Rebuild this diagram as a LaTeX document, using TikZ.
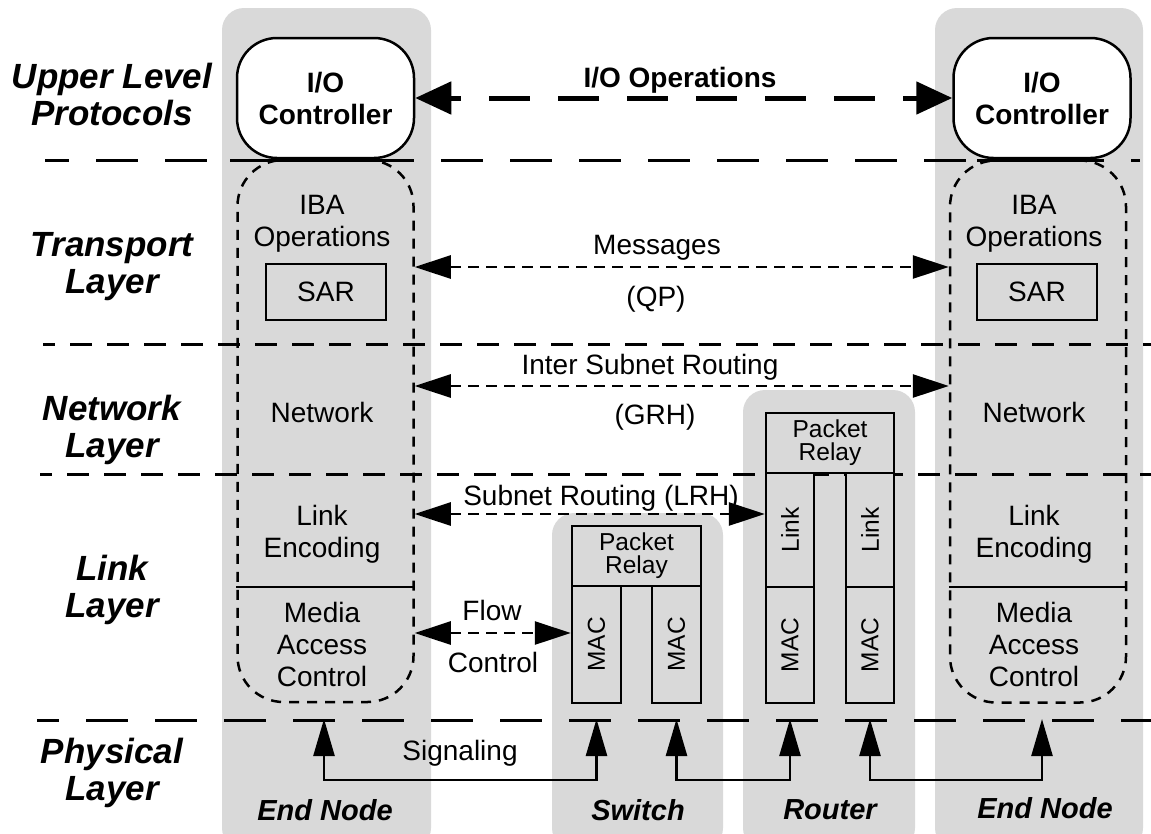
\documentclass[tikz,border=0pt]{standalone}
\usepackage{fontspec}
\setmainfont{Liberation Sans}
\usetikzlibrary{arrows.meta,calc}
\definecolor{colgray}{RGB}{217,217,217}
\newcommand\figreg{\fontsize{28}{32}\selectfont}
\newcommand\figbold{\bfseries\fontsize{28}{32}\selectfont}
\newcommand\figlayer{\bfseries\itshape\fontsize{35}{37}\selectfont}
\newcommand\figfoot{\bfseries\itshape\fontsize{29}{32}\selectfont}
\newcommand\figdev{\fontsize{24.5}{23}\selectfont}
\begin{document}
\begin{tikzpicture}[x=1pt,y=-1pt,
  column/.style={fill=colgray, draw=none, rounded corners=22pt},
  seplong/.style={line width=3pt, dash pattern=on 42pt off 27pt},
  sepshort/.style={line width=3pt, dash pattern=on 22pt off 15pt},
  iobox/.style={draw, line width=2.5pt, fill=white, rounded corners=40pt,
    minimum width=177pt, minimum height=120pt, inner sep=0pt, align=center, font=\figbold},
  ibabox/.style={draw, line width=2.5pt, dash pattern=on 10pt off 8pt, rounded corners=46pt,
    minimum width=176pt, minimum height=542pt, inner sep=0pt},
  sarbox/.style={draw, line width=1.5pt, minimum width=120pt, minimum height=56pt, inner sep=0pt, font=\figreg},
  devbox/.style={draw, line width=2.5pt, fill=colgray, inner sep=0pt, align=center, font=\figdev},
  txt/.style={align=center, font=\figreg, inner sep=0pt},
  layer/.style={align=center, font=\figlayer, inner sep=0pt},
  foot/.style={align=center, font=\figfoot, inner sep=0pt},
  dasharrow/.style={line width=2.8pt, dash pattern=on 11pt off 7pt,
    {Triangle[length=36pt,width=23pt]}-{Triangle[length=36pt,width=23pt]}},
  ioarrow/.style={line width=5pt, dash pattern=on 41pt off 28pt, dash phase=30pt,
    {Triangle[length=36pt,width=32pt]}-{Triangle[length=36pt,width=32pt]}},
  sigarrow/.style={line width=2.5pt,
    {Triangle[length=37pt,width=21pt]}-{Triangle[length=37pt,width=21pt]}}
]
\useasboundingbox (0,0) rectangle (1151,833);
\clip (0,0) rectangle (1151,833);

% gray columns
\fill[column] (222,8) rectangle (431,850);
\fill[column] (552,513) rectangle (723,850);
\fill[column] (743,390) rectangle (915,850);
\fill[column] (935,8) rectangle (1143,850);

% layer separators
\draw[seplong, dash phase=18pt] (45,160) -- (1140,160);
\draw[line width=3pt] (230,160) -- (408,160);
\draw[line width=3pt] (977,160) -- (1087,160);
\draw[sepshort, dash phase=10pt] (43,344) -- (1151,344);
\draw[sepshort, dash phase=10pt] (40,474) -- (1151,474);
\draw[seplong, dash phase=20pt] (37,720) -- (1151,720);

% layer labels
\node[layer] (lUpper) at (112,94.5) {Upper Level\\Protocols};
\node[layer] (lTrans) at (112,266.5) {Transport\\Layer};
\node[layer] (lNet) at (112,429.5) {Network\\Layer};
\node[layer] (lLink) at (112,589.5) {Link\\Layer};
\node[layer] (lPhys) at (112,772.5) {Physical\\Layer};

% end nodes
\node[iobox] (ioL) at (325.5,98) {I/O\\Controller};
\node[iobox] (ioR) at (1042,98) {I/O\\Controller};
\node[ibabox] (ibaL) at (325.5,431) {};
\node[ibabox] (ibaR) at (1038,431.5) {};
\draw[line width=2.5pt] (ibaL.west |- 0,587) -- (ibaL.east |- 0,587);
\draw[line width=2.5pt] (ibaR.west |- 0,587) -- (ibaR.east |- 0,587);
\node[sarbox] (sarL) at (326,292) {SAR};
\node[sarbox] (sarR) at (1037,292) {SAR};

\node[txt] (ibaTL) at (322,224) {IBA\\Operations};
\node[txt] (netTL) at (322,412) {Network};
\node[txt] (lnkTL) at (322,534) {Link\\Encoding};
\node[txt] (macTL) at (322,644) {Media\\Access\\Control};
\node[txt] (ibaTR) at (1034,224) {IBA\\Operations};
\node[txt] (netTR) at (1034,412) {Network};
\node[txt] (lnkTR) at (1034,534) {Link\\Encoding};
\node[txt] (macTR) at (1034,644) {Media\\Access\\Control};

% switch
\node[devbox, minimum width=129pt, minimum height=60pt] (sRelay) at (636.5,556) {Packet\\Relay};
\node[devbox, minimum width=49pt, minimum height=117pt] (sMac1) at (596.5,644.5) {\rotatebox{90}{MAC}};
\node[devbox, minimum width=49pt, minimum height=117pt] (sMac2) at (676.5,644.5) {\rotatebox{90}{MAC}};

% router
\node[devbox, minimum width=128pt, minimum height=60pt] (rRelay) at (830,443) {Packet\\Relay};
\node[devbox, minimum width=48pt, minimum height=114pt] (rLink1) at (790,530) {\rotatebox{90}{Link}};
\node[devbox, minimum width=48pt, minimum height=116pt] (rMac1) at (790,645) {\rotatebox{90}{MAC}};
\node[devbox, minimum width=48pt, minimum height=114pt] (rLink2) at (870,530) {\rotatebox{90}{Link}};
\node[devbox, minimum width=48pt, minimum height=116pt] (rMac2) at (870,645) {\rotatebox{90}{MAC}};

% peer arrows
\draw[ioarrow] (ioL.east) -- (ioR.west);
\node[txt, font=\figbold] (tIO) at (680,80) {I/O Operations};
\draw[dasharrow] (ibaL.east |- 0,267) -- (ibaR.west |- 0,267);
\node[txt] (tMsg) at (657,248) {Messages};
\node[txt] (tQP) at (656,299) {(QP)};
\draw[dasharrow] (ibaL.east |- 0,386) -- (ibaR.west |- 0,386);
\node[txt] (tISR) at (650,367) {Inter Subnet Routing};
\node[txt] (tGRH) at (655,417) {(GRH)};
\draw[dasharrow] (ibaL.east |- 0,514) -- (rLink1.west |- 0,514);
\node[txt] (tSR) at (601,498) {Subnet Routing (LRH)};
\draw[dasharrow] (ibaL.east |- 0,633) -- (sMac1.west |- 0,633);
\node[txt] (tFlow) at (492,610) {Flow};
\node[txt] (tCtl) at (493,662) {Control};

% signaling
\coordinate (sg1) at (324,719);
\coordinate (sg2) at (sMac1 |- 0,719);
\coordinate (sg3) at (sMac2 |- 0,719);
\coordinate (sg4) at (rMac1 |- 0,719);
\coordinate (sg5) at (rMac2 |- 0,719);
\coordinate (sg6) at (1042,719);
\draw[sigarrow] (sg1) -- (sg1 |- 0,780) -| (sg2);
\draw[sigarrow] (sg3) -- (sg3 |- 0,780) -| (sg4);
\draw[sigarrow] (sg5) -- (sg5 |- 0,780) -| (sg6);
\node[txt] (tSig) at (460,753) {Signaling};

% bottom labels
\node[foot] (fEndL) at (325,810) {End Node};
\node[foot] (fSw) at (638,810) {Switch};
\node[foot] (fRt) at (830,810) {Router};
\node[foot] (fEndR) at (1045,808) {End Node};
\end{tikzpicture}
\end{document}
